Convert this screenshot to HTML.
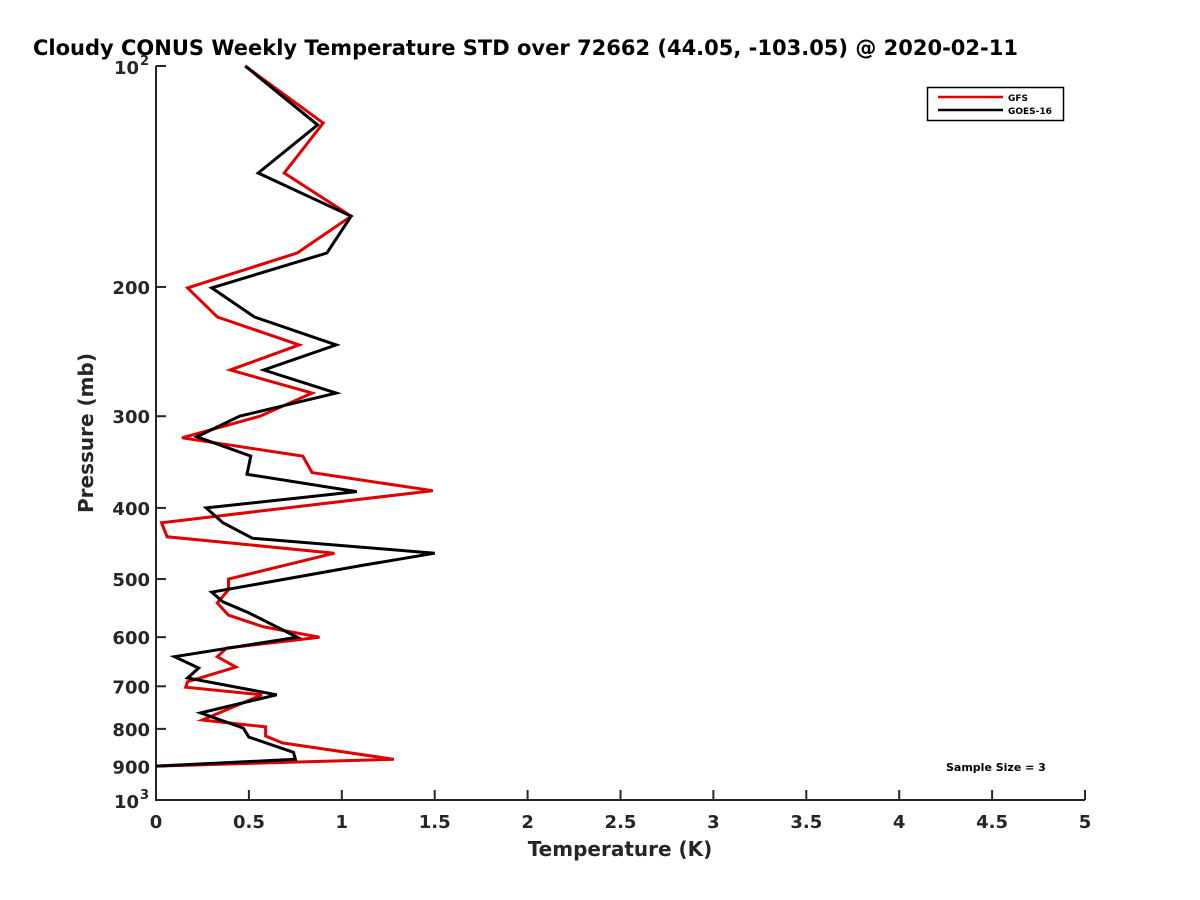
<!DOCTYPE html>
<html><head><meta charset="utf-8"><style>
body{margin:0;background:#fff;}
svg{display:block;font-family:"DejaVu Sans","Liberation Sans",sans-serif;}
</style></head><body>
<svg id="chart" width="1200" height="900">
<text x="33" y="55" font-size="21" font-weight="bold" fill="#000">Cloudy CONUS Weekly Temperature STD over 72662 (44.05, -103.05) @ 2020-02-11</text>
<g id="axes"></g>
<g id="series"></g>
<g>
<rect x="927.5" y="87.5" width="136" height="33" fill="#fff" stroke="#000" stroke-width="1.5"/>
<line x1="938" y1="97" x2="1003" y2="97" stroke="#e00000" stroke-width="2.5"/>
<text x="1008" y="101" font-size="9" font-weight="bold">GFS</text>
<line x1="938" y1="110" x2="1003" y2="110" stroke="#000" stroke-width="2.5"/>
<text x="1008" y="114" font-size="9" font-weight="bold">GOES-16</text>
</g>
<text x="946" y="771" font-size="11" font-weight="bold">Sample Size = 3</text>
<text x="620" y="856" font-size="20" font-weight="bold" fill="#262626" text-anchor="middle">Temperature (K)</text>
<text x="93" y="433" font-size="20" font-weight="bold" fill="#262626" text-anchor="middle" transform="rotate(-90 93 433)">Pressure (mb)</text>
</svg>
<script>
const xTicks = [0,0.5,1,1.5,2,2.5,3,3.5,4,4.5,5];
const xTickLabels = ["0","0.5","1","1.5","2","2.5","3","3.5","4","4.5","5"];
const yTicks = [200,300,400,500,600,700,800,900];
const pressureGFS = [100,119.6,139.9,160.2,179.8,200.6,219.8,239.9,259.5,279,300,321,340,358,379,419,438,461,500,517,539,560,581,600,621,638,659,690,702,719,778,795,818,836,880,899];
const tempGFS = [0.48,0.90,0.69,1.05,0.76,0.17,0.33,0.77,0.40,0.84,0.56,0.14,0.79,0.84,1.49,0.03,0.06,0.96,0.39,0.39,0.33,0.39,0.58,0.88,0.38,0.33,0.43,0.17,0.16,0.57,0.25,0.59,0.59,0.68,1.28,0];
const pressureGOES = [100,120.3,139.9,160.2,179.8,200.6,219.8,239.9,259.5,279,300,320,340,360,380,400,419,440,461,479,521,537,556,600,638,661,682,719,761,798,821,861,880,899];
const tempGOES = [0.48,0.87,0.55,1.05,0.92,0.30,0.53,0.97,0.58,0.97,0.45,0.22,0.51,0.49,1.08,0.27,0.36,0.52,1.50,1.11,0.30,0.36,0.50,0.76,0.10,0.23,0.17,0.65,0.24,0.47,0.50,0.74,0.75,0];

const X0=156, X1=1085, Y0=66, Y1=800;
const xScale = t => X0 + (t/5)*(X1-X0);
const yScale = p => Y0 + (Math.log10(p)-2)*(Y1-Y0);
const NS="http://www.w3.org/2000/svg";
const axes=document.getElementById('axes');
const series=document.getElementById('series');
function mk(tag, attrs, parent){const e=document.createElementNS(NS,tag);for(const k in attrs)e.setAttribute(k,attrs[k]);parent.appendChild(e);return e;}

const ax=mk('path',{d:`M${X0},${Y0} L${X0},${Y1} L${X1},${Y1}`,fill:'none',stroke:'#262626','stroke-width':2},axes);


const tt=mk('line',{x1:X0,y1:Y0,x2:X0+10,y2:Y0,stroke:'#262626','stroke-width':2},axes);



xTicks.forEach((t,i)=>{
  const x=xScale(t);
  const l=mk('line',{x1:x,y1:Y1,x2:x,y2:Y1-10,stroke:'#262626','stroke-width':2},axes);
  
  
  const tx=mk('text',{x:x,y:Y1+28,'font-size':18,'font-weight':'bold',fill:'#262626','text-anchor':'middle'},axes);
  tx.textContent=xTickLabels[i];
  
  
});
yTicks.forEach(p=>{
  const y=yScale(p);
  const l=mk('line',{x1:X0,y1:y,x2:X0+10,y2:y,stroke:'#262626','stroke-width':2},axes);
  
  
  const tx=mk('text',{x:X0-6,y:y+7,'font-size':18,'font-weight':'bold',fill:'#262626','text-anchor':'end'},axes);
  tx.textContent=String(p);
  
  
});
[[100,'2'],[1000,'3']].forEach(([p,e])=>{
  const y=yScale(p);
  const tx=mk('text',{x:X0-17,y:y+8,'font-size':18,'font-weight':'bold',fill:'#262626','text-anchor':'end'},axes);
  tx.textContent='10';
  
  
  const sp=mk('text',{x:X0-7,y:y-1,'font-size':13,'font-weight':'bold',fill:'#262626','text-anchor':'end'},axes);
  sp.textContent=e;
  
  
});

function line(ps, ts, color, name){
  const pts=ps.map((p,i)=>xScale(ts[i]).toFixed(1)+','+yScale(p).toFixed(1)).join(' ');
  const pl=mk('polyline',{points:pts,fill:'none',stroke:color,'stroke-width':3,'stroke-linejoin':'miter'},series);
  
  
}
line(pressureGFS,tempGFS,'#e00000','gfs-line');
line(pressureGOES,tempGOES,'#000000','goes16-line');
</script>
</body></html>
